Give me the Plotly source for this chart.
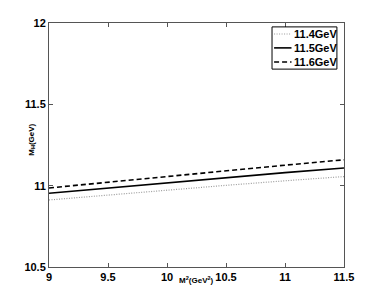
import plotly.graph_objects as go

x_vals = [9.0, 9.5, 10.0, 10.5, 11.0, 11.5]
y_114 = [10.912, 10.943, 10.973, 11.002, 11.030, 11.056]
y_115 = [10.953, 10.985, 11.020, 11.050, 11.080, 11.109]
y_116 = [10.986, 11.022, 11.058, 11.092, 11.126, 11.159]
names = ["11.4GeV", "11.5GeV", "11.6GeV"]
x_ticks = [9, 9.5, 10, 10.5, 11, 11.5]
x_ticklabels = ["9", "9.5", "10", "10.5", "11", "11.5"]
y_ticks = [10.5, 11, 11.5, 12]
y_ticklabels = ["10.5", "11", "11.5", "12"]

FAM = "Liberation Sans, Arial"
font = dict(family=FAM, size=11, color="black", weight="bold")

styles = [
    dict(color="#9a9a9a", width=1.2, dash="1px,1.5px"),
    dict(color="black", width=1.6),
    dict(color="black", width=1.6, dash="5px,3px"),
]
series = [y_114, y_115, y_116]

fig = go.Figure()
for nm, ys, st in zip(names, series, styles):
    fig.add_trace(go.Scatter(x=x_vals, y=ys, mode="lines", name=nm, line=st,
                             showlegend=False, hoverinfo="skip"))

axis_common = dict(showgrid=False, zeroline=False, showline=True, mirror="ticks",
                   linecolor="#555555", linewidth=1, ticks="inside", ticklen=4,
                   tickcolor="#555555", tickfont=font, automargin=False)

# custom compact legend (paper coordinates)
shapes = [dict(type="rect", xref="paper", yref="paper", x0=0.756, x1=0.976,
               y0=0.811, y1=0.984, line=dict(color="black", width=1),
               fillcolor="white", layer="above")]
annotations = []
row_y = [0.955, 0.898, 0.840]
for nm, st, yy in zip(names, styles, row_y):
    shapes.append(dict(type="line", xref="paper", yref="paper", x0=0.763, x1=0.822,
                       y0=yy, y1=yy, line=st, layer="above"))
    annotations.append(dict(text=nm, x=0.824, y=yy, xref="paper", yref="paper",
                            xanchor="left", yanchor="middle", showarrow=False,
                            font=dict(family=FAM, size=11, color="black", weight="bold")))

annotations += [
    dict(text="M<sup>2</sup>(GeV<sup>2</sup>)", x=10.25, y=-0.025, xref="x", yref="paper",
         yanchor="top", showarrow=False,
         font=dict(family=FAM, size=8, color="black", weight="bold")),
    dict(text="M<sub>H</sub>(GeV)", x=-0.035, y=0.52, xref="paper", yref="paper",
         xanchor="right", textangle=-90, showarrow=False,
         font=dict(family=FAM, size=8, color="black", weight="bold")),
]

fig.update_layout(
    width=380, height=300,
    margin=dict(l=49, r=36, t=23, b=33),
    plot_bgcolor="white", paper_bgcolor="white",
    xaxis=dict(range=[9, 11.5], tickvals=x_ticks, ticktext=x_ticklabels, **axis_common),
    yaxis=dict(range=[10.5, 12], tickvals=y_ticks, ticktext=y_ticklabels, **axis_common),
    showlegend=False,
    hovermode=False,
    shapes=shapes,
    annotations=annotations,
)

fig.write_html("out.html", config={"displayModeBar": False, "staticPlot": True},
               post_script="document.body.style.margin='0px';")
